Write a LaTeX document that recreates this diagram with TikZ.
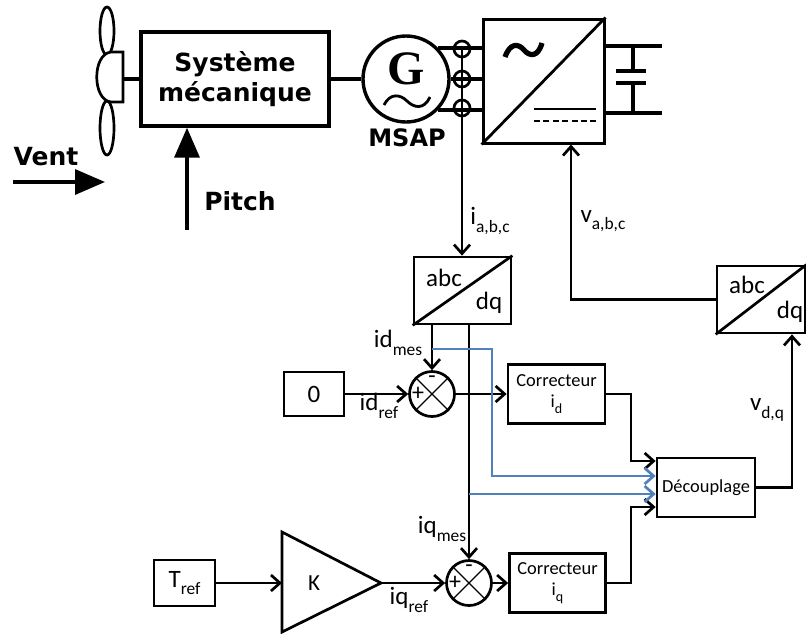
\documentclass[tikz,border=0pt]{standalone}
\usepackage{fontspec}
\setmainfont{Carlito}
\newfontfamily\verdfont{DejaVu Sans}
\newfontfamily\gfont{Liberation Serif}
\usetikzlibrary{arrows.meta}
\definecolor{linkblue}{RGB}{79,129,189}
\newcommand{\lowix}[1]{\raisebox{-.3em}{\fontsize{8.7}{9}\selectfont #1}}

\begin{document}
\begin{tikzpicture}[x=.5pt,y=-.5pt,line width=1.35pt,
  sig/.style={-{Straight Barb[length=4.5pt,width=8pt]}},
  bsig/.style={sig, draw=linkblue},
  bigarrow/.style={-{Triangle[length=15pt,width=12.5pt]}, line width=1.7pt},
  boldlbl/.style={font=\verdfont\bfseries\fontsize{12.5}{15}\selectfont},
  lbl/.style={font=\fontsize{12.5}{14}\selectfont, inner sep=0pt},
  small/.style={font=\fontsize{9.2}{10.5}\selectfont}]
 \useasboundingbox (0,0) rectangle (806,633);
 \begin{scope}[every node/.style={draw, inner sep=0pt, line width=1.35pt}]
   \node (mech) [minimum width=94pt, minimum height=47pt, line width=1.7pt, align=center, boldlbl] at (235,79) {Système\\mécanique};
   \node (gen) [circle, minimum size=43pt, line width=1.7pt] at (406,79) {};
   \node (conv) [minimum width=60.5pt, minimum height=62pt, line width=1.5pt] at (543.5,81) {};
   \node (t1) [circle, minimum size=8pt] at (462,49) {};
   \node (t2) [circle, minimum size=8pt] at (462,79) {};
   \node (t3) [circle, minimum size=8pt] at (462,108) {};
   \node (abc1) [minimum width=48.5pt, minimum height=33.5pt] at (462.5,290.5) {};
   \node (abc2) [minimum width=44pt, minimum height=33.5pt] at (761,299.5) {};
   \node (zero) [minimum width=30pt, minimum height=22pt, lbl] at (314,394) {0};
   \node (sum1) [circle, minimum size=22.5pt] at (432,394) {};
   \node (corrd) [minimum width=48.5pt, minimum height=29.5pt, align=center, small] at (556.5,394) {Correcteur\\i\lowix{\fontsize{7}{7}\selectfont d}};
   \node (decoup) [minimum width=49pt, minimum height=29.5pt, small] at (706,487.5) {Découplage};
   \node (tref) [minimum width=30.5pt, minimum height=23pt, lbl] at (184.5,583) {T\lowix{ref}};
   \node (sum2) [circle, minimum size=22.5pt] at (469,583) {};
   \node (corrq) [minimum width=48pt, minimum height=29.5pt, align=center, small] at (557.5,583) {Correcteur\\i\lowix{\fontsize{7}{7}\selectfont q}};
 \end{scope}

 \node (vent) [boldlbl] at (46,157) {Vent};
 \node (pitch) [boldlbl] at (240,201) {Pitch};
 \node (msap) [boldlbl, font=\verdfont\bfseries\fontsize{12}{14}\selectfont] at (407,138) {MSAP};
 \node (gl) [font=\gfont\bfseries\fontsize{24}{24}\selectfont] at (406,69) {G};
 \node (abcA) [lbl] at (444,278) {abc};
 \node (dqA) [lbl] at (489,303) {dq};
 \node (abcB) [lbl] at (747,285) {abc};
 \node (dqB) [lbl] at (790,312) {dq};
 \node (iabc) [lbl] at (490,221) {i\lowix{a,b,c}};
 \node (vabcl) [lbl] at (603,221) {v\lowix{a,b,c}};
 \node (vdql) [lbl] at (767,410) {v\lowix{d,q}};
 \node (idmes) [lbl] at (398,343) {id\lowix{mes}};
 \node (idref) [lbl] at (379,406) {id\lowix{ref}};
 \node (iqmes) [lbl] at (442,529) {iq\lowix{mes}};
 \node (iqref) [lbl] at (409,600) {iq\lowix{ref}};
 \node (K) [lbl, font=\fontsize{11.5}{12}\selectfont] at (314,583) {K};
 \node (p1) [lbl, font=\fontsize{12}{12}\selectfont] at ([xshift=5pt]sum1.west) {+};
 \node (m1) [lbl, font=\fontsize{12}{12}\selectfont] at ([yshift=-5pt]sum1.north) {-};
 \node (p2) [lbl, font=\fontsize{12}{12}\selectfont] at ([xshift=5pt]sum2.west) {+};
 \node (m2) [lbl, font=\fontsize{12}{12}\selectfont] at ([yshift=-5pt]sum2.north) {-};

 \coordinate (hub) at (123,79);
 \coordinate (ventA) at (13,182);
 \coordinate (ventB) at (105,182);
 \coordinate (pitchA) at (187,230);
 \coordinate (dcp) at (662,46);
 \coordinate (dcn) at (662,113);
 \coordinate (kin) at (282,583);
 \coordinate (kout) at (381,583);
 \coordinate (vabc) at (571,299.5);
 \coordinate (vdq) at (792,487.5);
 \coordinate (idtap) at (432,349);
 \coordinate (idbend) at (492,349);
 \coordinate (iqtap) at (469,494);
 \coordinate (cdout) at (631,394);
 \coordinate (cqout) at (631,583);

 % eolienne
 \draw (107,31) ellipse (3.5pt and 12pt);
 \draw (107,128) ellipse (3.5pt and 13.5pt);
 \draw[fill=white] (123,52) -- (111,52) .. controls (92,54) and (92,100) .. (111,102) -- (123,102) -- cycle;
 \draw[line width=1.7pt] (hub) -- (mech.west);
 \draw[line width=1.7pt] (mech.east) -- (gen.west);
 \draw[bigarrow] (ventA) -- (ventB);
 \draw[bigarrow] (pitchA) -- (pitchA |- mech.south);

 % generatrice et convertisseur
 \draw[line width=1.4pt] (384,105) .. controls (390,93) and (400,94) .. (407,101) .. controls (414,108) and (424,110) .. (430,97);
 \draw[line width=1.7pt] (gen.44) -- (conv.west |- gen.44);
 \draw[line width=1.7pt] (gen.east) -- (conv.west |- gen.east);
 \draw[line width=1.7pt] (gen.-44) -- (conv.west |- gen.-44);
 \draw[line width=1.4pt] (conv.south west) -- (conv.north east);
 \draw[line width=2.6pt] (505,57) .. controls (510,43) and (518,43) .. (524,50) .. controls (530,57) and (538,57) .. (542,43);
 \draw[line width=1.3pt] (534,109) -- (596,109);
 \draw[line width=1.3pt, dash pattern=on 3pt off 1.7pt] (534,121) -- (596,121);
 \draw[line width=1.7pt] (conv.east |- dcp) -- (dcp);
 \draw[line width=1.7pt] (conv.east |- dcn) -- (dcn);
 \draw[line width=1.7pt] (633,46) -- (633,71) (616,71) -- (646,71) (616,83) -- (646,83) (633,83) -- (633,113);

 % commande
 \draw (abc1.south west) -- (abc1.north east);
 \draw (abc2.south west) -- (abc2.north east);
 \draw[sig] (t1.center) -- (t1 |- abc1.north);
 \draw[sig] (abc2.west) -- (vabc) -- (vabc |- conv.south);
 \draw[sig] (abc1.south -| sum1.north) -- (sum1.north);
 \draw[sig] (abc1.south -| sum2.north) -- (sum2.north);
 \draw[sig] (zero.east) -- (sum1.west);
 \draw[sig] (sum1.east) -- (corrd.west);
 \draw[sig] (tref.east) -- (kin);
 \draw (282,532) -- (kout) -- (282,632) -- cycle;
 \draw[sig] (kout) -- (sum2.west);
 \draw[sig] (sum2.east) -- (corrq.west);
 \draw[sig] (corrd.east) -- (cdout) -- (cdout |- 0,461) -- (decoup.west |- 0,461);
 \draw[sig] (corrq.east) -- (cqout) -- (cqout |- 0,507) -- (decoup.west |- 0,507);
 \draw[bsig] (idtap) -- (idbend) -- (idbend |- 0,476) -- (decoup.west |- 0,476);
 \draw[bsig] (iqtap) -- (decoup.west |- iqtap);
 \draw[sig] (decoup.east) -- (vdq) -- (vdq |- abc2.south);
 \foreach \s in {sum1,sum2}
   \draw[line width=.6pt] (\s.45) -- (\s.225) (\s.135) -- (\s.315);
\end{tikzpicture}
\end{document}
